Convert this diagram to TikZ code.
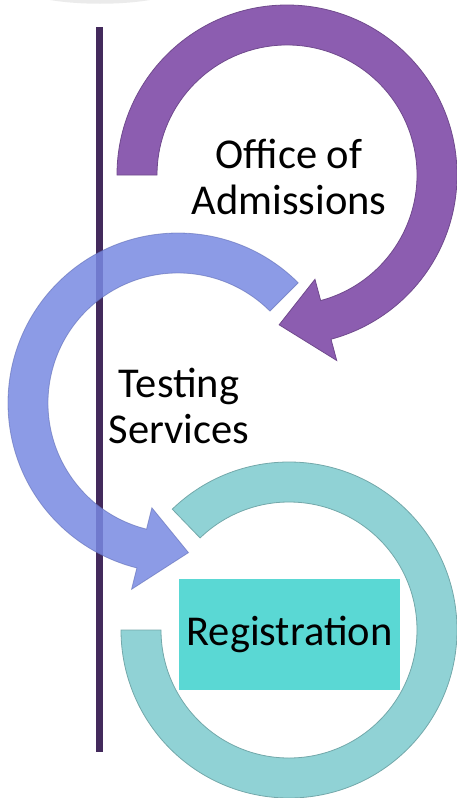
\documentclass[tikz,border=0pt]{standalone}
\usepackage{fontspec}
\setmainfont{Carlito}
\definecolor{admpurple}{HTML}{8C5DB0}
\definecolor{testblue}{HTML}{7889E2}
\definecolor{regteal}{HTML}{90D2D5}
\definecolor{regbox}{HTML}{5AD8D4}
\definecolor{timeline}{HTML}{432A5C}

\begin{document}
\begin{tikzpicture}[x=1pt, y=1pt,
		  lbl/.style={align=center, font=\fontsize{42.5}{46}\selectfont, inner sep=0pt},
		  band/.style={line width=0.8pt, line join=miter}
		]
		\useasboundingbox (0,0) rectangle (457,-798);
		% shadow of the shape above
		\fill[black!8] (50,0) .. controls (80,-5) and (120,-5) .. (150,0) -- cycle;
		% time line
		\coordinate (t_top) at (99.5,-27);
		\coordinate (t_bot) at (99.5,-752);
		\draw[timeline, line width=7pt] (t_top) -- (t_bot);
		
		% first circular arrow
		\begin{scope}[shift={(287,-175)}]
		\filldraw[band, fill=admpurple, draw=admpurple!80!black]
		  (180:170) arc[start angle=180, end angle=-75, radius=170]
		  -- (-75:192) -- (-93:150) -- (-75:108) -- (-75:130)
		  arc[start angle=-75, end angle=180, radius=130] -- cycle;
		\end{scope}
		% second circular arrow
		\begin{scope}[shift={(178,-403)}]
		\filldraw[band, fill=testblue, draw=testblue!80!black, fill opacity=0.85, draw opacity=0.6]
		  (45:170) arc[start angle=45, end angle=256, radius=170]
		  -- (256:192) -- (274:150) -- (256:108) -- (256:130)
		  arc[start angle=256, end angle=45, radius=130] -- cycle;
		\end{scope}
		% third circular arrow
		\begin{scope}[shift={(289,-630)}]
		\filldraw[band, fill=regteal, draw=regteal!80!black]
		  (134:168) arc[start angle=134, end angle=-180, radius=168]
		  -- (180:128) arc[start angle=-180, end angle=134, radius=128] -- cycle;
		\end{scope}
		
		\node[lbl] (office) at (289,-177) {Office of\\Admissions};
		\node[lbl] (testing) at (179,-406) {Testing\\Services};
		\node[lbl, fill=regbox, minimum width=221pt, minimum height=111pt] (registration) at (289.5,-634.5) {Registration};
		\end{tikzpicture}
\end{document}
